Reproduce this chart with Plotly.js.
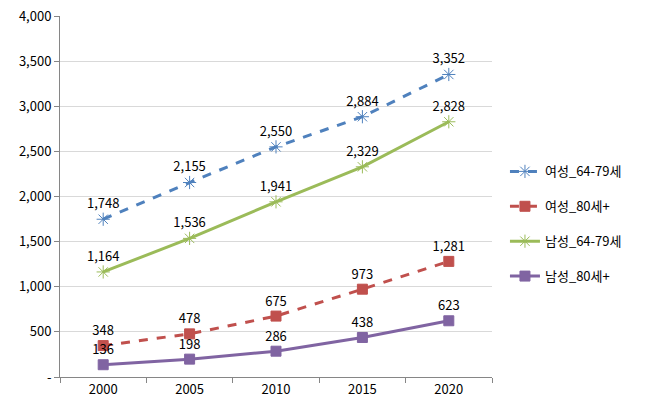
<!DOCTYPE html>
<html><head><meta charset="utf-8">
<script src="https://cdn.plot.ly/plotly-3.0.1.min.js"></script>
<style>body{margin:0;padding:0;background:#fff}</style>
</head><body>
<div id="chart" style="width:646px;height:412px"></div>
<script>
const years = ['2000','2005','2010','2015','2020'];
const female6479 = [1748, 2155, 2550, 2884, 3352];
const female80 = [348, 478, 675, 973, 1281];
const male6479 = [1164, 1536, 1941, 2329, 2828];
const male80 = [136, 198, 286, 438, 623];
const seriesNames = ['여성_64-79세', '여성_80세+', '남성_64-79세', '남성_80세+'];
const yTicks = [0, 500, 1000, 1500, 2000, 2500, 3000, 3500, 4000];
const yTickText = ['-', '500', '1,000', '1,500', '2,000', '2,500', '3,000', '3,500', '4,000'];

const fmt = v => v.toLocaleString('en-US');
function mk(name, vals, color, dash, symbol, i) {
  return {
    x: years, y: vals, name: name, type: 'scatter', mode: 'lines+markers+text',
    text: vals.map(fmt), textposition: 'top center',
    textfont: {size: 13, color: '#000'},
    line: {color: color, width: 3, dash: dash},
    marker: {color: color, symbol: symbol, size: symbol.startsWith('square') ? 10 : 11,
             line: {color: color, width: 1}},
    legendgroup: 'g' + i, cliponaxis: false
  };
}
const data = [
  mk(seriesNames[0], female6479, '#4F81BD', 'dash', 'asterisk-open', 0),
  mk(seriesNames[1], female80, '#C0504D', 'dash', 'square', 1),
  mk(seriesNames[2], male6479, '#9BBB59', 'solid', 'asterisk-open', 2),
  mk(seriesNames[3], male80, '#8064A2', 'solid', 'square', 3)
];
const layout = {
  width: 646, height: 412,
  margin: {l: 60, r: 154, t: 16, b: 35},
  paper_bgcolor: '#fff', plot_bgcolor: '#fff',
  font: {family: '"Noto Sans CJK KR", "Noto Sans", sans-serif', size: 13, color: '#000'},
  showlegend: true,
  legend: {x: 1.03, y: 0.424, yanchor: 'middle', xanchor: 'left',
           font: {size: 13, color: '#000'}, traceorder: 'grouped', tracegroupgap: 15},
  xaxis: {type: 'category', tickson: 'boundaries', ticks: 'outside', ticklen: 5,
          tickcolor: '#868686', showline: true, linecolor: '#868686', linewidth: 1,
          showgrid: false, zeroline: false, range: [-0.5, 4.5], fixedrange: true,
          tickfont: {size: 13, color: '#000'}},
  yaxis: {range: [0, 4000], tickvals: yTicks, ticktext: yTickText, ticks: 'outside',
          ticklen: 5, tickcolor: '#868686', showline: true, linecolor: '#868686',
          gridcolor: '#D9D9D9', zeroline: false, tickfont: {size: 13, color: '#000'}}
};
Plotly.newPlot('chart', data, layout, {displayModeBar: false, staticPlot: true});
</script>
</body></html>
